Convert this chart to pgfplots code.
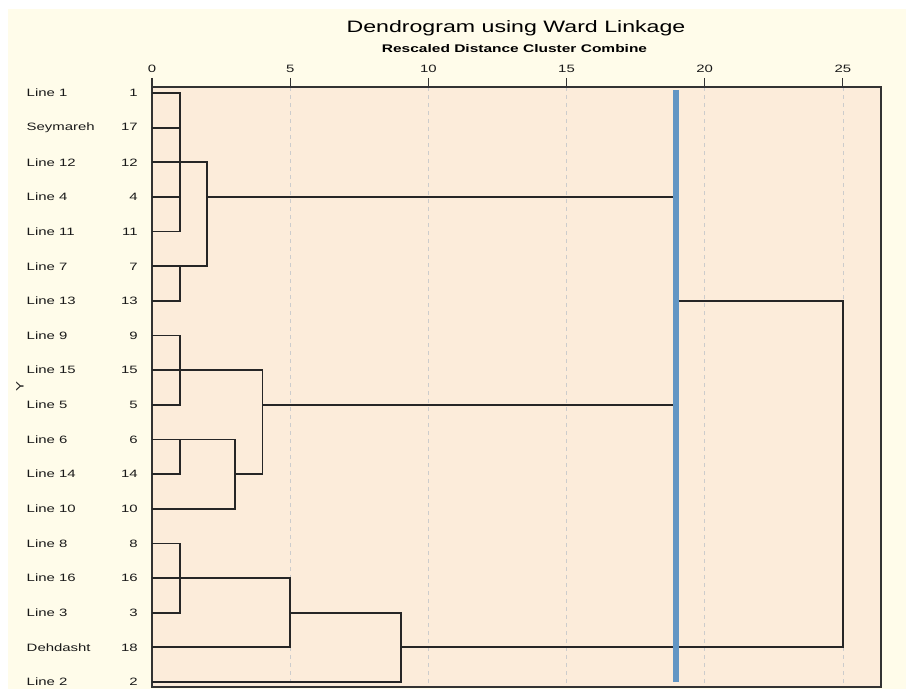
\documentclass[border=0pt]{standalone}
\usepackage{pgfplots}
\pgfplotsset{compat=1.18}
\usepackage{fontspec}
\setmainfont{Liberation Sans}[FakeStretch=1.4]
\definecolor{bgyellow}{RGB}{255,252,234}
\definecolor{plotpeach}{RGB}{252,236,218}
\definecolor{cutblue}{RGB}{98,150,196}
\definecolor{txt}{RGB}{25,25,25}
\newcommand\lbl[2]{\makebox[83.25pt]{#1\hfill #2}}
\begin{document}
\begin{tikzpicture}
\fill[white] (-114pt,-1.5pt) rectangle (565.5pt,515.25pt);
\fill[bgyellow] (-108pt,-1.5pt) rectangle (565.5pt,508.5pt);
\begin{axis}[
  at={(0pt,0pt)}, anchor=south west,
  scale only axis, width=546.75pt, height=450pt,
  xmin=0, xmax=26.38, ymin=0.827, ymax=18.144, y dir=reverse,
  axis background/.style={fill=plotpeach},
  axis line style={line width=1pt, black!80},
  xtick={0,5,10,15,20,25},
  xtick pos=right, xticklabel pos=right,
  tick align=outside, major tick length=6.75pt,
  tick style={line width=0.9pt, black!80},
  xticklabel style={inner sep=0pt, yshift=3.5pt, font=\fontsize{8}{9}\selectfont, text=txt},
  /pgf/number format/assume math mode=true,
  xmajorgrids, grid style={dash pattern=on 3pt off 3pt, gray!40, line width=0.5pt},
  ytick={1,...,18},
  y tick style={draw=none},
  yticklabel style={inner sep=0pt, xshift=-3.75pt, font=\fontsize{8}{9}\selectfont, text=txt},
  yticklabels={{\lbl{Line 1}{1}},{\lbl{Seymareh}{17}},{\lbl{Line 12}{12}},{\lbl{Line 4}{4}},{\lbl{Line 11}{11}},{\lbl{Line 7}{7}},{\lbl{Line 13}{13}},{\lbl{Line 9}{9}},{\lbl{Line 15}{15}},{\lbl{Line 5}{5}},{\lbl{Line 6}{6}},{\lbl{Line 14}{14}},{\lbl{Line 10}{10}},{\lbl{Line 8}{8}},{\lbl{Line 16}{16}},{\lbl{Line 3}{3}},{\lbl{Dehdasht}{18}},{\lbl{Line 2}{2}}},
  dendro/.style={line width=1.35pt, draw=black!85, mark=none, forget plot},
  clip=false,
]
% top cluster
\addplot[dendro] coordinates {(0,1)(1,1)(1,5)(0,5)};
\addplot[dendro] coordinates {(0,2)(1,2)};
\addplot[dendro] coordinates {(0,4)(1,4)};
\addplot[dendro] coordinates {(0,3)(2,3)(2,6)(0,6)};
\addplot[dendro] coordinates {(0,7)(1,7)(1,6)};
\addplot[dendro] coordinates {(2,4)(18.95,4)(18.95,10)};
% middle cluster
\addplot[dendro] coordinates {(0,8)(1,8)(1,10)(0,10)};
\addplot[dendro] coordinates {(0,9)(4,9)(4,12)(3,12)};
\addplot[dendro] coordinates {(0,11)(3,11)(3,13)(0,13)};
\addplot[dendro] coordinates {(0,12)(1,12)(1,11)};
\addplot[dendro] coordinates {(4,10)(18.95,10)};
% bottom cluster
\addplot[dendro] coordinates {(0,14)(1,14)(1,16)(0,16)};
\addplot[dendro] coordinates {(0,15)(5,15)(5,17)(0,17)};
\addplot[dendro] coordinates {(5,16)(9,16)(9,18)(0,18)};
\addplot[dendro] coordinates {(9,17)(25,17)(25,7)(18.95,7)};
% cut line
\addplot[line width=4.6pt, draw=cutblue, mark=none, forget plot] coordinates {(18.95,0.91)(18.95,18.0)};
\end{axis}
\node[anchor=base, font=\fontsize{12.4}{14}\selectfont] at (273pt,490.7pt) {Dendrogram using Ward Linkage};
\node[anchor=base, font=\bfseries\fontsize{8.3}{10}\selectfont] at (271.9pt,475.5pt) {Rescaled Distance Cluster Combine};
\node[rotate=90, font=\fontsize{8}{9}\selectfont, text=txt] at (-99pt,225pt) {Y};
\end{tikzpicture}
\end{document}
